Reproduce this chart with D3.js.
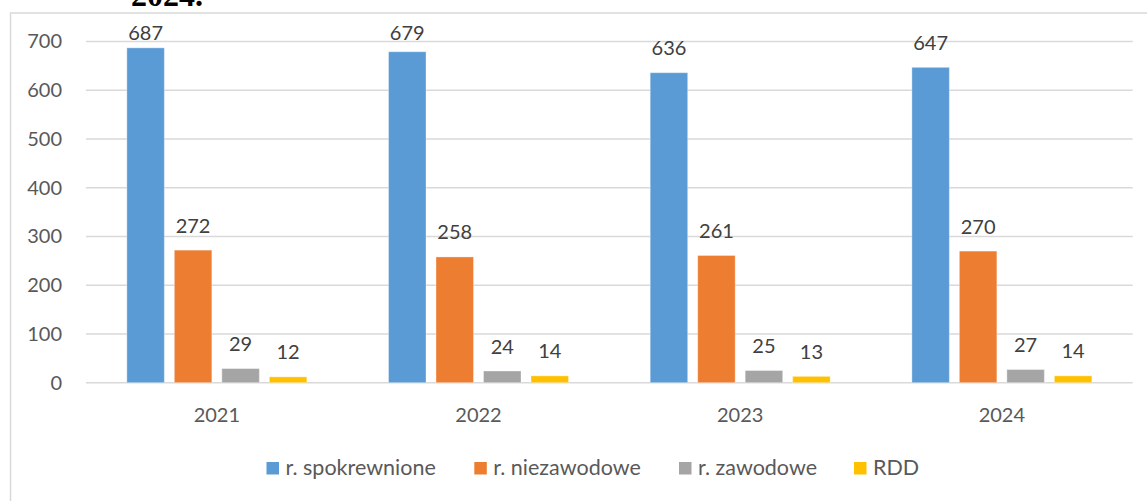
<!DOCTYPE html>
<html><head><meta charset="utf-8">
<script src="https://cdn.jsdelivr.net/npm/d3@7"></script>
<style>html,body{margin:0;padding:0;background:#fff;}svg{display:block;}</style>
</head><body>
<svg id="chart" width="1147" height="501"></svg>
<script>
const categories = ["2021", "2022", "2023", "2024"];
const seriesNames = ["r. spokrewnione", "r. niezawodowe", "r. zawodowe", "RDD"];
const seriesColors = ["#5B9BD5", "#ED7D31", "#A5A5A5", "#FFC000"];
const spokrewnione = [687, 679, 636, 647];
const niezawodowe = [272, 258, 261, 270];
const zawodowe = [29, 24, 25, 27];
const rdd = [12, 14, 13, 14];
const yTicks = [0, 100, 200, 300, 400, 500, 600, 700];
const titleText = "2024.";

const seriesValues = [spokrewnione, niezawodowe, zawodowe, rdd];
const svg = d3.select("#chart");
const FONT = "Lato, 'Open Sans', sans-serif";

// document caption fragment (cut at top, as in the source)
svg.append("text").attr("x", 131).attr("y", 5.5)
  .attr("font-family", "'Liberation Serif', 'DejaVu Serif', serif")
  .attr("font-weight", "bold").attr("font-size", 32).attr("fill", "#000")
  .text(titleText);

// chart frame
svg.append("rect").attr("x", 10.5).attr("y", 13).attr("width", 1400).attr("height", 800)
  .attr("fill", "none").attr("stroke", "#d9d9d9").attr("stroke-width", 1.5);

const plotL = 86, plotR = 1132.7, plotTop = 41.5, plotBottom = 382.7;
const y = d3.scaleLinear().domain([0, 700]).range([plotBottom, plotTop]);
const x0 = d3.scaleBand().domain(categories).range([plotL, plotR]).padding(0);
const x1 = d3.scaleBand().domain(seriesNames).range([0, x0.bandwidth()])
  .paddingInner(0.2105).paddingOuter(0.86);

// gridlines
svg.append("g").selectAll("line").data(yTicks).join("line")
  .attr("x1", plotL).attr("x2", plotR)
  .attr("y1", d => y(d)).attr("y2", d => y(d))
  .attr("stroke", "#d9d9d9").attr("stroke-width", 1.5);

// y axis labels
const yAxis = d3.axisLeft(y).tickValues(yTicks).tickSize(0).tickPadding(0);
const gy = svg.append("g").attr("transform", `translate(62,0)`).call(yAxis);
gy.select(".domain").remove();
gy.selectAll("text").attr("font-family", FONT).attr("font-size", 20).attr("fill", "#595959");

// x axis labels
const xAxis = d3.axisBottom(x0).tickSize(0).tickPadding(0);
const gx = svg.append("g").attr("transform", `translate(0,${plotBottom})`).call(xAxis);
gx.select(".domain").remove();
gx.selectAll("text").attr("dy", null).attr("y", 39).attr("font-family", FONT)
  .attr("font-size", 20).attr("fill", "#595959");

// bars
const rows = [];
categories.forEach((c, i) => seriesNames.forEach((s, j) => rows.push({c, s, j, v: seriesValues[j][i]})));
const g = svg.append("g");
g.selectAll("rect").data(rows).join("rect")
  .attr("x", d => x0(d.c) + x1(d.s)).attr("width", x1.bandwidth())
  .attr("y", d => y(d.v)).attr("height", d => y(0) - y(d.v))
  .attr("fill", d => seriesColors[d.j])
  .attr("stroke", "#ffffff").attr("stroke-opacity", 0.35).attr("stroke-width", 1);

g.selectAll("text").data(rows).join("text")
  .attr("x", d => x0(d.c) + x1(d.s) + x1.bandwidth() / 2)
  .attr("y", d => Math.max(y(d.v) - 17.5, 40))
  .attr("text-anchor", "middle").attr("font-family", FONT).attr("font-size", 20)
  .attr("fill", "#404040").text(d => d.v);

// legend
const legendX = [266.5, 474.3, 679, 854];
const lg = svg.append("g");
seriesNames.forEach((s, j) => {
  lg.append("rect").attr("x", legendX[j]).attr("y", 462).attr("width", 12.5).attr("height", 12.5)
    .attr("fill", seriesColors[j]);
  lg.append("text").attr("x", legendX[j] + 19).attr("y", 475)
    .attr("font-family", FONT).attr("font-size", 21.5).attr("fill", "#595959").text(s);
});
</script>
</body></html>
